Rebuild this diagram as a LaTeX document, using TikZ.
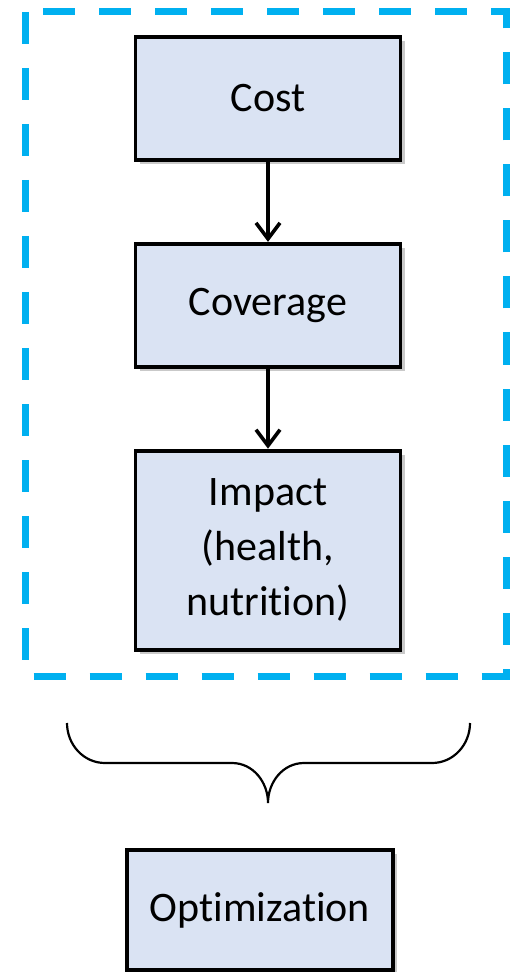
\documentclass[tikz,border=0pt]{standalone}
\usepackage{fontspec}
\setmainfont{Carlito}[Ligatures=NoCommon]
\usetikzlibrary{positioning, arrows.meta, shadows}

\definecolor{boxfill}{HTML}{DAE3F3}
\definecolor{framecol}{HTML}{00B0F0}

\tikzset{
    box/.style={draw=black, line width=1.9pt, fill=boxfill, minimum width=132.5pt,
        minimum height=61.5pt, align=center, inner sep=0pt,
        font=\fontsize{21}{27.5}\selectfont,
        drop shadow={shadow xshift=2pt, shadow yshift=-2pt, opacity=.3, fill=black!70}},
    link/.style={line width=1.8pt, -{Straight Barb[length=8pt,width=12pt,line width=1.8pt]}},
    frame/.style={draw=framecol, line width=3.5pt, dash pattern=on 16pt off 12pt}
}

\begin{document}
\begin{tikzpicture}[x=0.5pt, y=-0.5pt, node distance=40pt]
    \useasboundingbox (0,0) rectangle (510,972);

    % cost chain
    \node[box] (cost) at (268,98.5) {Cost};
    \node[box, below=of cost] (coverage) {Coverage};
    \node[box, below=of coverage, minimum height=99.5pt] (impact) {Impact\\(health,\\nutrition)};
    \draw[link] (cost) -- (coverage);
    \draw[link] (coverage) -- (impact);

    \draw[frame] (25.5,12) rectangle (506,676);

    % brace
    \coordinate (brace-l) at (67,723);
    \coordinate (brace-r) at (470,723);
    \coordinate (brace-tip) at (268,803);
    \draw[line width=1.1pt] (brace-l) to[out=-90,in=180] (105,763) -- (232,763)
        to[out=0,in=90] (brace-tip) to[out=90,in=180] (304,763) -- (432,763)
        to[out=0,in=-90] (brace-r);

    \node[box, minimum width=133pt, minimum height=60pt] (opt) at (260,910) {Optimization};
\end{tikzpicture}
\end{document}
